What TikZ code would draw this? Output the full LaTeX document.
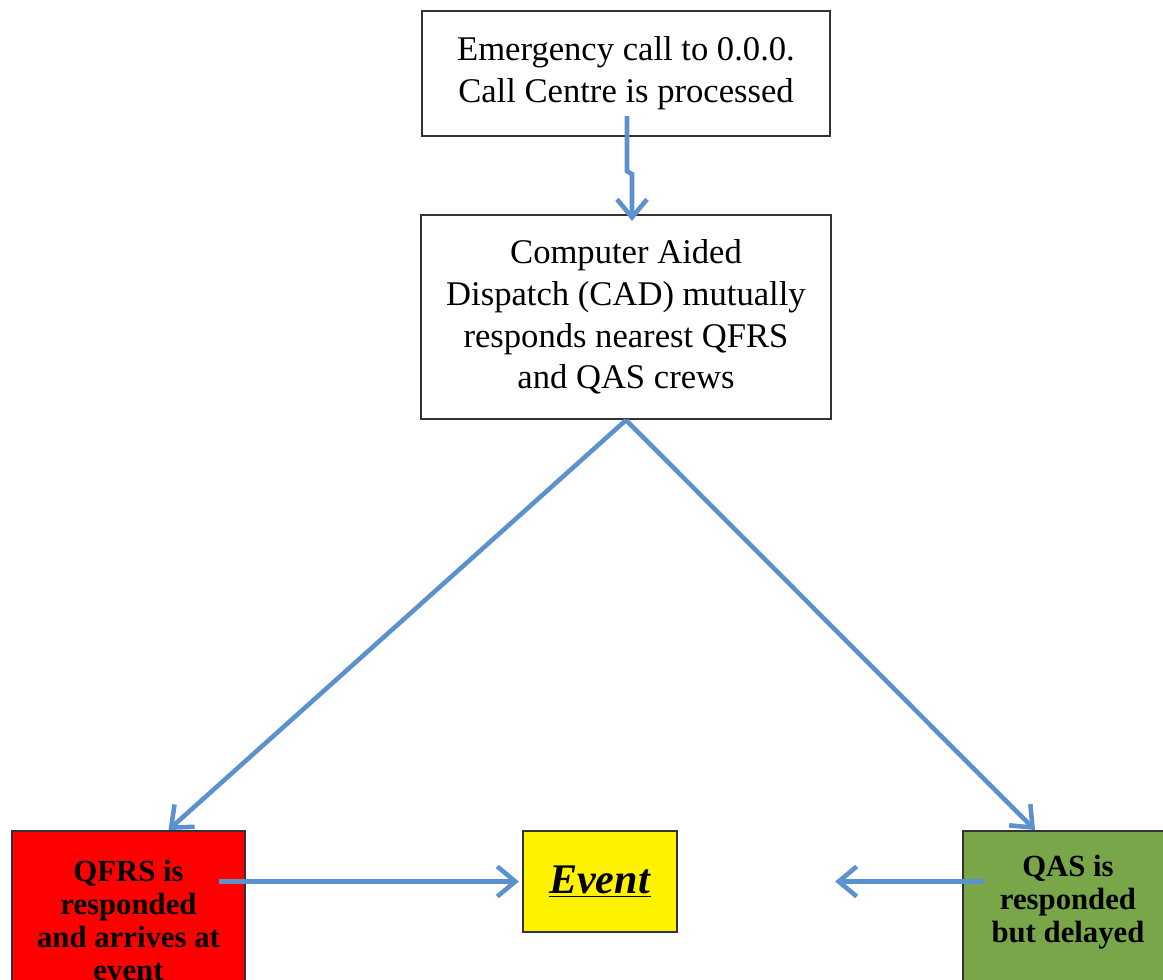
\documentclass[tikz,border=0pt]{standalone}
\usepackage{fontspec}
\setmainfont{Liberation Serif}
\usepackage{tikz}
\usetikzlibrary{arrows.meta,calc,positioning}
\definecolor{linkblue}{RGB}{91,145,204}
\definecolor{qasgreen}{RGB}{120,166,72}

\tikzset{
  box/.style={draw=black!80, line width=1.3pt, fill=white, align=center, inner sep=0pt},
  plain/.style={box, font=\fontsize{19.7}{23.8}\selectfont},
  crew/.style={box, anchor=north, minimum height=3.56cm, font=\fontsize{17.5}{18.8}\selectfont\bfseries},
  link/.style={draw=linkblue, line width=2.6pt, -{Straight Barb[length=3.6mm,width=6mm]}}
}

\begin{document}
\begin{tikzpicture}[x=0.02cm, y=-0.02cm]
\useasboundingbox (0,0) rectangle (1163,980);
\clip (0,0) rectangle (1163,980);

\node[plain, minimum width=8.16cm, minimum height=2.5cm] (call) at (626,73.5) {Emergency call to 0.0.0.\\Call Centre is processed};
\node[plain, minimum width=8.2cm, minimum height=4.08cm] (cad) at (626,317) {Computer Aided\\Dispatch (CAD) mutually\\responds nearest QFRS\\and QAS crews};

\node[crew, fill=red, minimum width=4.66cm] (qfrs) at (128.5,830) {QFRS is\\responded\\and arrives at\\event};
\node[box, fill=yellow, minimum width=3.08cm, minimum height=2.02cm, font=\fontsize{24}{28}\selectfont] (event) at (600,881.5) {\underline{\textbf{\textit{Event}}}};
\node[crew, fill=qasgreen, minimum width=4.2cm] (qas) at (1068,830) {QAS is\\responded\\but delayed\\\strut};

\draw[link] ($(call.south)+(1,-21)$) -- ++(0,55) -- ++(5,3) -- ($(cad.north)+(6,7)$);
\draw[link] (cad.south) -- ($(qfrs.north)+(40,0)$);
\draw[link] (cad.south) -- ($(qas.north)+(-33,0)$);
\draw[link] ($(qfrs.north)+(90,51.5)$) -- ($(event.west)+(-3,0)$);
\coordinate (gap) at ($(event.east)+(157,0)$);
\draw[link] ($(qas.north)+(-84,51.5)$) -- (gap);
\end{tikzpicture}
\end{document}
